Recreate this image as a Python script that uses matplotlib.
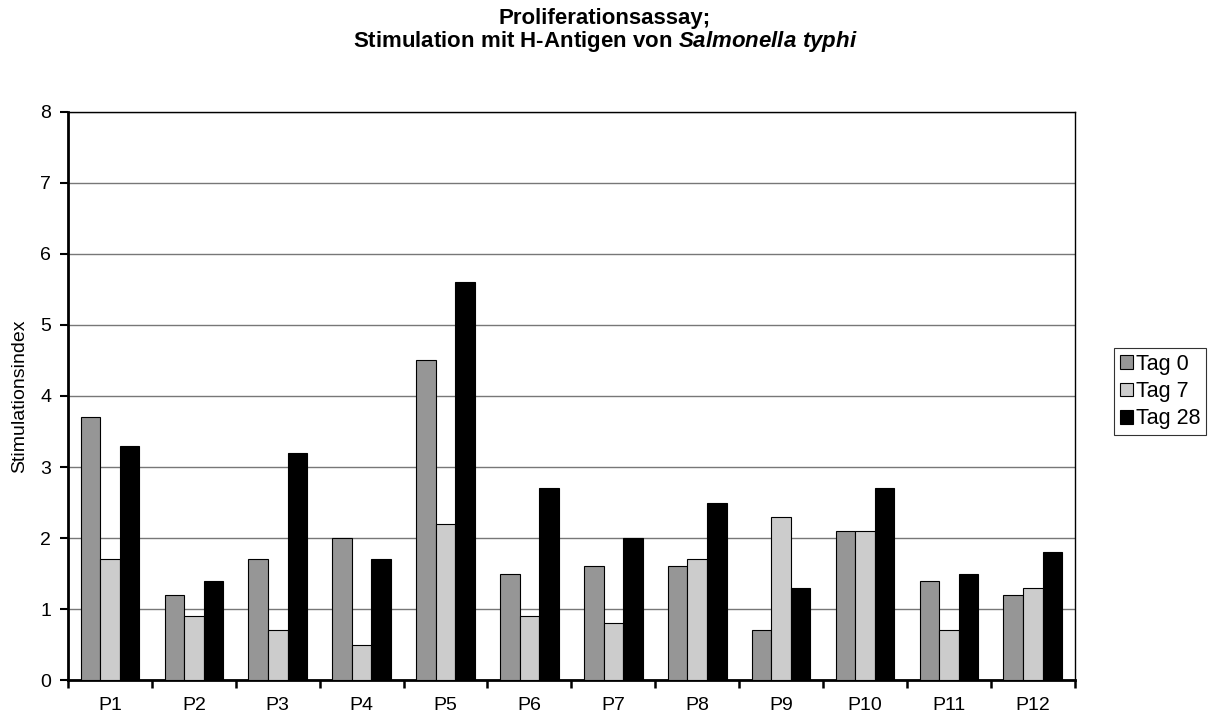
import numpy as np
import matplotlib
matplotlib.use("Agg")
from matplotlib import pyplot as plt
from matplotlib.patches import Patch

plt.rcParams['font.family'] = ['Liberation Sans', 'DejaVu Sans']
plt.rcParams['mathtext.fontset'] = 'custom'
plt.rcParams['mathtext.it'] = 'Liberation Sans:italic:bold'
plt.rcParams['mathtext.rm'] = 'Liberation Sans:bold'

patients = ["P1", "P2", "P3", "P4", "P5", "P6", "P7", "P8", "P9", "P10", "P11", "P12"]
tag0 = [3.7, 1.2, 1.7, 2.0, 4.5, 1.5, 1.6, 1.6, 0.7, 2.1, 1.4, 1.2]
tag7 = [1.7, 0.9, 0.7, 0.5, 2.2, 0.9, 0.8, 1.7, 2.3, 2.1, 0.7, 1.3]
tag28 = [3.3, 1.4, 3.2, 1.7, 5.6, 2.7, 2.0, 2.5, 1.3, 2.7, 1.5, 1.8]
series_names = ["Tag 0", "Tag 7", "Tag 28"]
colors = ["#969696", "#cccccc", "#000000"]

fig = plt.figure(figsize=(12.1, 7.17), dpi=100)
ax = fig.add_axes([0.0562, 0.0516, 0.832, 0.7922])

x = np.arange(len(patients))
w = 0.233
for i, vals in enumerate([tag0, tag7, tag28]):
    ax.bar(x + (i - 1) * w, vals, width=w, color=colors[i], edgecolor="black",
           linewidth=0.8, zorder=3)

ax.set_xlim(-0.5, len(patients) - 0.5)
ax.set_ylim(0, 8)
ax.set_yticks(range(0, 9))
ax.yaxis.grid(True, color="#777777", linewidth=1, zorder=0)
ax.set_axisbelow(True)

# category labels centered, ticks on category boundaries
ax.set_xticks(x)
ax.set_xticklabels(patients, fontsize=14)
ax.tick_params(axis="x", length=0, pad=12)
ax.set_xticks(np.arange(-0.5, len(patients)), minor=True)
ax.tick_params(axis="x", which="minor", direction="out", length=6, width=1.8)
ax.tick_params(axis="y", direction="out", length=6, width=1.5, labelsize=14, pad=6)

for side in ["left", "bottom"]:
    ax.spines[side].set_linewidth(2.0)
for side in ["top", "right"]:
    ax.spines[side].set_linewidth(1.0)

ax.set_ylabel("Stimulationsindex", fontsize=14, labelpad=9)

fig.text(0.5, 0.974, "Proliferationsassay;", ha="center", va="center",
         fontsize=16, fontweight="bold")
fig.text(0.5, 0.942, r"Stimulation mit H-Antigen von $\mathit{Salmonella\ typhi}$",
         ha="center", va="center", fontsize=16, fontweight="bold")

handles = [Patch(facecolor=c, edgecolor="black", linewidth=0.8) for c in colors]
leg = fig.legend(handles, series_names, loc="center left",
                 bbox_to_anchor=(0.921, 0.454), fontsize=15.5, frameon=True,
                 fancybox=False, handlelength=0.6, handleheight=0.6,
                 handletextpad=0.15, borderpad=0.25, labelspacing=0.3,
                 borderaxespad=0)
leg.get_frame().set_edgecolor("black")
leg.get_frame().set_linewidth(0.8)

fig.savefig("out.png", dpi=100)
